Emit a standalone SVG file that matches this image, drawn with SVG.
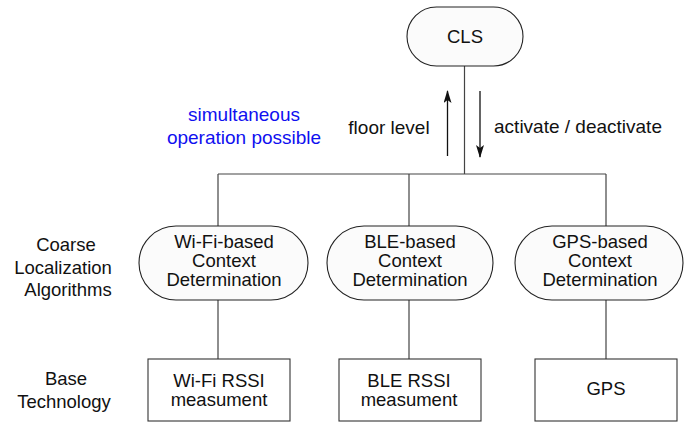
<svg xmlns="http://www.w3.org/2000/svg" width="686" height="422" viewBox="0 0 686 422">
<style>
text{font-family:"Liberation Sans",Arial,sans-serif;font-size:18.5px;fill:#111;text-anchor:middle}
.lbl{font-size:19px}
.pill{fill:#fbfbfb;stroke:#222;stroke-width:1.1}
.box{fill:#fff;stroke:#333;stroke-width:1.1}
.ln{stroke:#444;stroke-width:1.2;fill:none}
.arr{stroke:#111;stroke-width:1.3;fill:none}
.blue{fill:#1010f0}
</style>
<defs>
<marker id="ah" viewBox="0 0 13 8" refX="12" refY="4" markerWidth="13" markerHeight="8" markerUnits="userSpaceOnUse" orient="auto">
<path d="M0,0 L13,4 L0,8 L3,4 z" fill="#111"/>
</marker>
</defs>
<rect width="686" height="422" fill="#fff"/>
<g id="connectors">
<path class="ln" d="M464.5,66 V174 M218,174 H606 M218,174 V226 M409,174 V226 M606,174 V226 M218,300 V359 M409,300 V359 M606,300 V359"/>
<line class="arr" x1="447.5" y1="156" x2="447.5" y2="91" marker-end="url(#ah)"/>
<line class="arr" x1="480" y1="91" x2="480" y2="157" marker-end="url(#ah)"/>
</g>
<g id="cls">
<rect class="pill" x="407" y="7" width="116" height="59" rx="29.5"/>
<text x="465" y="43">CLS</text>
</g>
<g id="labels">
<text class="lbl" x="389" y="134">floor level</text>
<text class="lbl" x="578" y="133">activate / deactivate</text>
<text class="lbl blue" x="244" y="121">simultaneous</text>
<text class="lbl blue" x="244" y="144">operation possible</text>
<text x="66" y="251">Coarse</text>
<text x="63" y="274">Localization</text>
<text x="68" y="296">Algorithms</text>
<text x="66" y="385">Base</text>
<text x="64" y="408">Technology</text>
</g>
<g id="wifi-ctx">
<rect class="pill" x="139" y="226" width="169" height="74" rx="37"/>
<text x="224" y="248">Wi-Fi-based</text>
<text x="224" y="267">Context</text>
<text x="224" y="286">Determination</text>
</g>
<g id="ble-ctx">
<rect class="pill" x="327" y="226" width="166" height="74" rx="37"/>
<text x="410" y="248">BLE-based</text>
<text x="410" y="267">Context</text>
<text x="410" y="286">Determination</text>
</g>
<g id="gps-ctx">
<rect class="pill" x="515" y="226" width="168" height="74" rx="37"/>
<text x="600" y="248">GPS-based</text>
<text x="600" y="267">Context</text>
<text x="600" y="286">Determination</text>
</g>
<g id="wifi-rssi">
<rect class="box" x="148" y="359" width="142" height="62"/>
<text x="219" y="386.5">Wi-Fi RSSI</text>
<text x="219" y="405.5">measument</text>
</g>
<g id="ble-rssi">
<rect class="box" x="339" y="359" width="142" height="62"/>
<text x="409" y="386.5">BLE RSSI</text>
<text x="409" y="405.5">measument</text>
</g>
<g id="gps">
<rect class="box" x="535" y="359" width="142" height="62"/>
<text x="606" y="395">GPS</text>
</g>
</svg>
